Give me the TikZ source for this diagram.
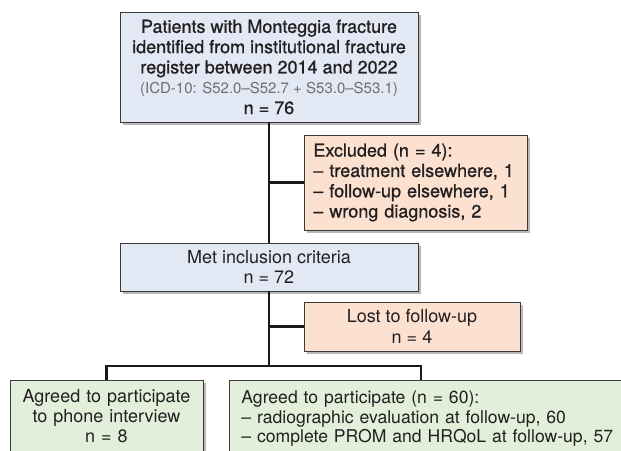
\documentclass[tikz,border=0pt]{standalone}
\usepackage{fontspec}
\setmainfont{TeX Gyre Heros}
\newfontfamily\medfont[FakeBold=0.9]{TeX Gyre Heros}
\usetikzlibrary{shadows,calc}
\definecolor{boxblue}{HTML}{E2E9F5}
\definecolor{boxpeach}{HTML}{FCE1D0}
\definecolor{boxgreen}{HTML}{E2EFDA}
\definecolor{edgegray}{HTML}{3A3A3A}
\definecolor{txt}{HTML}{231F20}
\definecolor{icdgray}{HTML}{6D6E71}
\tikzset{
  fbox/.style={draw=edgegray, line width=0.8pt, inner sep=0pt, text=txt,
    font=\fontsize{18}{20.5}\selectfont,
    drop shadow={shadow xshift=2.5pt, shadow yshift=-3pt, fill=black, opacity=0.28}},
  bluebox/.style={fbox, fill=boxblue},
  peachbox/.style={fbox, fill=boxpeach},
  greenbox/.style={fbox, fill=boxgreen},
  conn/.style={draw=black!90, line width=2.8pt}
}
\begin{document}
\begin{tikzpicture}[x=1pt,y=-1pt]
\useasboundingbox (0,0) rectangle (621,450);
\clip (0,0) rectangle (621,450);

\node[bluebox, minimum width=298pt, minimum height=110pt, align=center,
      font=\medfont\fontsize{18}{20.3}\selectfont] (top) at (269,67)
  {Patients with Monteggia fracture\\identified from institutional fracture\\register between 2014 and 2022\\{\fontspec{TeX Gyre Heros}\fontsize{15}{20.3}\selectfont\color{icdgray}(ICD-10: S52.0–S52.7 + S53.0–S53.1)}\\n = 76};

\node[peachbox, anchor=west, minimum height=95pt, text width=205pt, inner xsep=9pt,
      align=left, font=\medfont\fontsize{18}{20.3}\selectfont] (excl) at (304,182.5)
  {Excluded (n = 4):\\– treatment elsewhere, 1\\– follow-up elsewhere, 1\\– wrong diagnosis, 2};

\node[bluebox, minimum width=298pt, minimum height=48pt, align=center] (met) at (269,267)
  {Met inclusion criteria\\n = 72};

\node[peachbox, minimum width=216pt, minimum height=49pt, align=center] (lost) at (412,326.5)
  {Lost to follow-up\\n = 4};

\node[greenbox, anchor=north, text width=187pt, inner xsep=3pt, inner ysep=9pt,
      text height=13pt, text depth=70pt, align=center, font=\fontsize{18}{20}\selectfont] (left) at (106.5,380)
  {Agreed to participate\\to phone interview\\n = 8};

\node[greenbox, anchor=north west, text width=400pt, inner xsep=12pt,
      inner ysep=10pt, text height=13pt, text depth=70pt, align=left, font=\fontsize{17.6}{19.7}\selectfont] (right) at (229,380)
  {Agreed to participate (n = 60):\\– radiographic evaluation at follow-up, 60\\– complete PROM and HRQoL at follow-up, 57};

\coordinate (split) at (269,366);
\coordinate (rdrop) at (421,380);

\draw[conn] (top.south) -- (met.north);
\draw[conn] (excl.west) -- (excl.west -| top.south);
\draw[conn] (met.south) -- (split);
\draw[conn] (lost.west) -- (lost.west -| met.south);
\draw[conn] (left.north) |- (split) -| (rdrop);
\end{tikzpicture}
\end{document}
